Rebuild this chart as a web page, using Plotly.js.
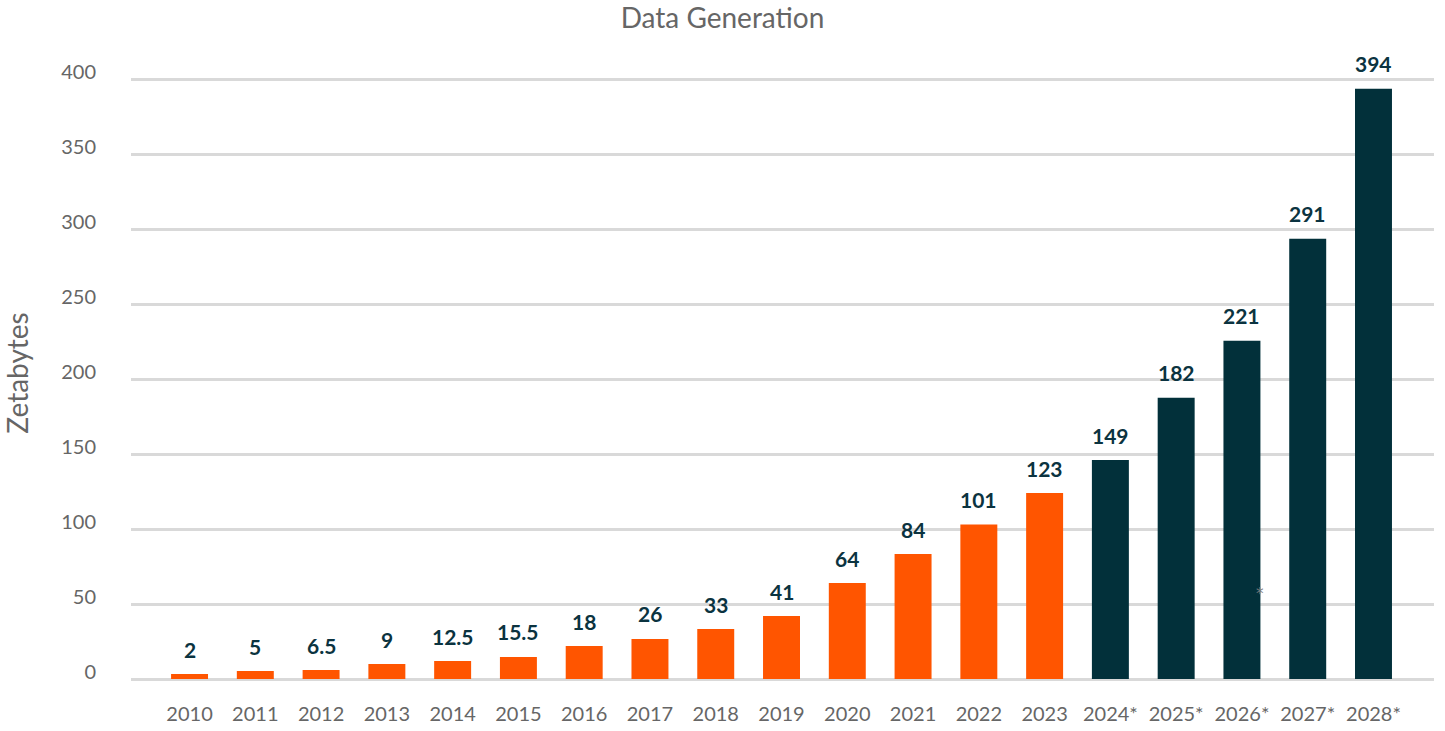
<!DOCTYPE html>
<html>
<head>
<meta charset="utf-8">
<script src="https://cdn.plot.ly/plotly-3.0.1.min.js"></script>
<style>html,body{margin:0;padding:0;background:#fff;}#chart{width:1445px;height:731px;}</style>
</head>
<body>
<div id="chart"></div>
<script>
// Categories (years; * = forecast)
const years = ["2010","2011","2012","2013","2014","2015","2016","2017","2018","2019","2020","2021","2022","2023","2024*","2025*","2026*","2027*","2028*"];
// Bar heights as drawn in the reference (zettabytes)
const barValues = [3.3, 5.3, 6, 10, 12, 14.7, 22, 26.7, 33.3, 42, 64, 83.3, 103, 124, 146, 187.5, 225.5, 293.5, 393.5];
// Value labels printed above the bars
const valueLabels = ["2","5","6.5","9","12.5","15.5","18","26","33","41","64","84","101","123","149","182","221","291","394"];
// Actual vs forecast flag
const isForecast = [false,false,false,false,false,false,false,false,false,false,false,false,false,false,true,true,true,true,true];

const ORANGE = "#FF5500";
const TEAL = "#02303A";
const FONT = "Lato, 'Open Sans', sans-serif";

const trace = {
  type: "bar",
  x: years,
  y: barValues,
  marker: { color: isForecast.map(f => f ? TEAL : ORANGE) },
  hoverinfo: "x+y",
  showlegend: false
};

const annotations = years.map((yr, i) => ({
  x: i, y: barValues[i], xref: "x", yref: "y",
  text: valueLabels[i], showarrow: false,
  yanchor: "middle", yshift: 25,
  font: { family: FONT, size: 21, color: "#0B3340", weight: 700 }
}));
annotations.push({
  x: 16.27, y: 57, xref: "x", yref: "y", text: "*", showarrow: false,
  font: { family: "'DejaVu Sans', sans-serif", size: 15, color: "#7A7A7A" }
});

const layout = {
  width: 1445, height: 731,
  paper_bgcolor: "#fff", plot_bgcolor: "#fff",
  margin: { l: 131, r: 11, t: 64, b: 49, autoexpand: false },
  title: {
    text: "Data Generation",
    font: { family: FONT, size: 28, color: "#666666" },
    x: 0.5, xanchor: "center", y: 0.975, yref: "container", yanchor: "middle"
  },
  bargap: 0.438,
  xaxis: {
    type: "category",
    range: [-0.89, 18.92],
    showgrid: false, zeroline: false, showline: false,
    ticks: "", ticklabelstandoff: 18,
    tickfont: { family: FONT, size: 20, color: "#666666" },
    fixedrange: true
  },
  yaxis: {
    range: [-2, 410],
    tickvals: [0, 50, 100, 150, 200, 250, 300, 350, 400],
    showgrid: true, gridcolor: "#D9D9D9", gridwidth: 2.5,
    zeroline: false, showline: false, ticks: "",
    ticklabelstandoff: 34, ticklabelshift: -7,
    tickfont: { family: FONT, size: 20, color: "#666666" },
    title: { text: "Zetabytes", font: { family: FONT, size: 28, color: "#666666" }, standoff: 26 },
    automargin: false,
    fixedrange: true
  },
  annotations: annotations
};

Plotly.newPlot("chart", [trace], layout, { displayModeBar: false });
</script>
</body>
</html>
